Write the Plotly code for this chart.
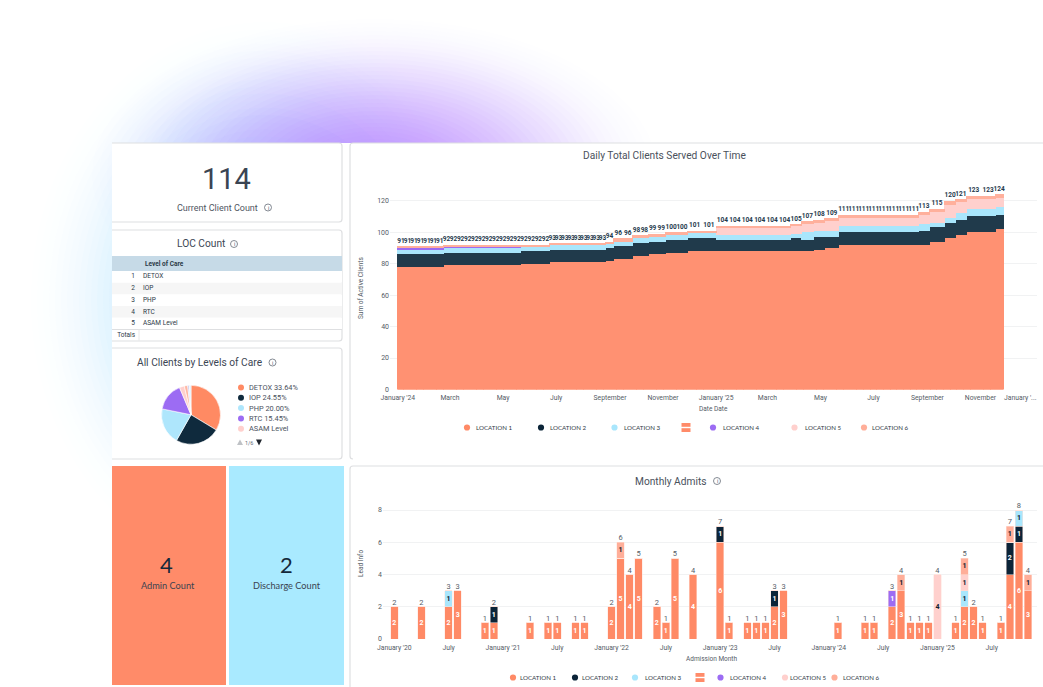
import pandas as pd
import plotly.graph_objects as go

W, H = 1043, 687

# ---------- Daily Total Clients Served (runs of equal daily values) ----------
run_start = ["2024-01-01", "2024-02-22", "2024-05-21", "2024-06-23", "2024-08-27", "2024-09-05",
             "2024-09-27", "2024-10-15", "2024-11-04", "2024-11-29", "2025-01-01", "2025-03-28",
             "2025-04-09", "2025-04-23", "2025-05-06", "2025-05-22", "2025-08-22", "2025-09-03",
             "2025-09-21", "2025-10-03", "2025-10-16", "2025-11-18"]
run_end = "2025-11-27"
daily_loc1 = [78, 79, 80, 81, 82, 83, 85, 86, 87, 88, 88, 88, 88, 89, 90, 92, 92, 94, 96, 98, 100, 102]
daily_loc2 = [8, 8, 8, 8, 8, 8, 8, 8, 8, 8, 7, 8, 7, 8, 7, 8, 9, 9, 10, 10, 10, 9]
daily_loc3 = [3, 3, 3, 3, 3, 3, 3, 3, 3, 4, 3, 3, 5, 4, 4, 4, 4, 3, 3, 4, 5, 5]
daily_loc4 = [1, 1, 0, 0, 0, 0, 0, 0, 0, 0, 0, 0, 0, 0, 0, 0, 0, 0, 0, 0, 0, 0]
daily_loc5 = [0, 0, 0, 0, 0, 0, 0, 0, 0, 0, 5, 5, 5, 5, 6, 5, 6, 7, 8, 7, 6, 6]
daily_loc6 = [1, 1, 1, 1, 1, 2, 2, 2, 2, 1, 1, 1, 2, 2, 2, 2, 2, 2, 3, 2, 2, 2]
daily_label_count = [7, 11, 4, 9, 1, 2, 2, 2, 2, 2, 6, 1, 1, 1, 1, 8, 1, 1, 1, 1, 2, 1]
daily_xticks = ["2024-01-01", "2024-03-01", "2024-05-01", "2024-07-01", "2024-09-01", "2024-11-01",
                "2025-01-01", "2025-03-01", "2025-05-01", "2025-07-01", "2025-09-01", "2025-11-01"]
daily_xlabels = ["January '24", "March", "May", "July", "September", "November",
                 "January '25", "March", "May", "July", "September", "November"]

# ---------- Monthly Admits ----------
adm_months = ["2020-01", "2020-04", "2020-07", "2020-08", "2020-11", "2020-12", "2021-04", "2021-06", "2021-07",
              "2021-09", "2021-10", "2022-01", "2022-02", "2022-03", "2022-04", "2022-06", "2022-07", "2022-08",
              "2022-10", "2023-01", "2023-02", "2023-04", "2023-05", "2023-06", "2023-07", "2023-08", "2024-02",
              "2024-05", "2024-06", "2024-08", "2024-09", "2024-10", "2024-11", "2024-12", "2025-01", "2025-03",
              "2025-04", "2025-05", "2025-06", "2025-08", "2025-09", "2025-10", "2025-11"]
adm_loc1 = [2, 2, 2, 3, 1, 1, 1, 1, 1, 1, 1, 2, 5, 4, 5, 2, 1, 5, 4, 6, 1, 1, 1, 1, 2, 3, 1, 1, 1, 2, 3, 1, 1, 1, 0, 1, 2, 2, 1, 1, 4, 6, 3]
adm_loc2 = [0, 0, 0, 0, 0, 1, 0, 0, 0, 0, 0, 0, 0, 0, 0, 0, 0, 0, 0, 1, 0, 0, 0, 0, 1, 0, 0, 0, 0, 0, 0, 0, 0, 0, 0, 0, 0, 0, 0, 0, 2, 1, 0]
adm_loc3 = [0, 0, 1, 0, 0, 0, 0, 0, 0, 0, 0, 0, 0, 0, 0, 0, 0, 0, 0, 0, 0, 0, 0, 0, 0, 0, 0, 0, 0, 0, 0, 0, 0, 0, 0, 0, 1, 0, 0, 0, 0, 1, 0]
adm_loc4 = [0, 0, 0, 0, 0, 0, 0, 0, 0, 0, 0, 0, 0, 0, 0, 0, 0, 0, 0, 0, 0, 0, 0, 0, 0, 0, 0, 0, 0, 1, 0, 0, 0, 0, 0, 0, 0, 0, 0, 0, 0, 0, 0]
adm_loc5 = [0, 0, 0, 0, 0, 0, 0, 0, 0, 0, 0, 0, 0, 0, 0, 0, 0, 0, 0, 0, 0, 0, 0, 0, 0, 0, 0, 0, 0, 0, 0, 0, 0, 0, 4, 0, 1, 0, 0, 0, 0, 0, 0]
adm_loc6 = [0, 0, 0, 0, 0, 0, 0, 0, 0, 0, 0, 0, 1, 0, 0, 0, 0, 0, 0, 0, 0, 0, 0, 0, 0, 0, 0, 0, 0, 0, 1, 0, 0, 0, 0, 0, 1, 0, 0, 0, 1, 0, 1]
adm_xtick_months = ["2020-01", "2020-07", "2021-01", "2021-07", "2022-01", "2022-07", "2023-01", "2023-07",
                    "2024-01", "2024-07", "2025-01", "2025-07"]
adm_xlabels = ["January '20", "July", "January '21", "July", "January '22", "July", "January '23", "July",
               "January '24", "July", "January '25", "July"]

# ---------- Levels of care ----------
care_labels = ["DETOX", "IOP", "PHP", "RTC", "ASAM Level", "Other A", "Other B", "Other C"]
care_shares = [33.64, 24.55, 20.00, 15.45, 2.73, 1.82, 0.91, 0.90]
care_legend = ["DETOX 33.64%", "IOP 24.55%", "PHP 20.00%", "RTC 15.45%", "ASAM Level"]
table_rows = ["1", "2", "3", "4", "5", "Totals"]
table_care = ["DETOX", "IOP", "PHP", "RTC", "ASAM Level", ""]

location_names = ["LOCATION 1", "LOCATION 2", "LOCATION 3", "LOCATION 4", "LOCATION 5", "LOCATION 6"]
colors = ["#FF9172", "#203A4B", "#A9E6FC", "#9C6CF3", "#FFD0CD", "#FFB09C"]
legend_dots = ["#FF8A66", "#0B2438", "#A9E6FC", "#9C6CF3", "#FFD0CD", "#FFAE99"]
care_colors = ["#FF8A63", "#0F2A3D", "#AEE6FC", "#9C6CF3", "#FFD0CD", "#FFB7A3", "#C9C9EE", "#DCEEFB"]

INK = "#3C4654"
TICK = "#555C66"
FONT = "Roboto"


def fx(x):
    return x / W


def fy(y):
    return 1 - y / H


def label(x, y, text, size, color=INK, anchor="center", angle=0, family=FONT):
    return dict(xref="paper", yref="paper", x=fx(x), y=fy(y), text=text, showarrow=False, xanchor=anchor,
                yanchor="middle", textangle=angle, align="center",
                font=dict(size=size, color=color, family=family), borderpad=0, borderwidth=0)


def card_path(x0, y0, x1, y1, r=3, open_left=False, open_right=False):
    a, b, c, d = fx(x0), fy(y0), fx(x1), fy(y1)
    rx, ry = r / W, r / H
    if open_right:
        return f"M {a+rx} {d} Q {a} {d} {a} {d+ry} L {a} {b-ry} Q {a} {b} {a+rx} {b} L {c} {b}"
    if open_left:
        return f"M {a} {b} L {c-rx} {b} Q {c} {b} {c} {b-ry} L {c} {d+ry} Q {c} {d} {c-rx} {d} L {a} {d}"
    return f"M {a} {b} L {c} {b} L {c} {d} L {a} {d} Z"


shapes = []


def glow(cx, cy, rx, ry, rgb, steps, peak, base):
    for k in range(steps):
        f = 1 - k / steps
        alpha = round(peak * (1 - f) + base, 4)
        shapes.append(dict(type="circle", xref="paper", yref="paper", x0=fx(cx - rx * f), x1=fx(cx + rx * f),
                           y0=fy(cy + ry * f), y1=fy(cy - ry * f), line_width=0, layer="below",
                           fillcolor=f"rgba({rgb[0]},{rgb[1]},{rgb[2]},{alpha})"))


def rect(x0, y0, x1, y1, fill, line=None):
    shapes.append(dict(type="rect", xref="paper", yref="paper", x0=fx(x0), x1=fx(x1), y0=fy(y1), y1=fy(y0),
                       fillcolor=fill, line=dict(width=1 if line else 0, color=line or fill), layer="below"))


def dot(x, y, r, fill, line=None, width=0):
    shapes.append(dict(type="circle", xref="paper", yref="paper", x0=fx(x - r), x1=fx(x + r), y0=fy(y + r),
                       y1=fy(y - r), fillcolor=fill, line=dict(width=width, color=line or fill), layer="above"))


def poly(points, fill):
    path = "M " + " L ".join(f"{fx(a)} {fy(b)}" for a, b in points) + " Z"
    shapes.append(dict(type="path", xref="paper", yref="paper", path=path, fillcolor=fill, line_width=0, layer="above"))


annotations = []


def info(x, y, r=3.5):
    dot(x, y, r, "rgba(255,255,255,0)", "#666D78", 0.8)
    annotations.append(label(x, y, "i", 5.5, "#555C66"))


glow(265, 300, 240, 285, (165, 222, 255), 40, 0.12, 0.004)
glow(375, 175, 290, 160, (190, 135, 250), 40, 0.085, 0.005)
rect(112, 143, W + 2, H + 2, "#FFFFFF")
rect(112, 466, 226, 685, "#FF8B69")
rect(229, 466, 344, 685, "#A9EAFF")

for x0, y0, x1, y1, side in [(112, 143, 342, 222, "l"), (112, 230, 342, 341, "l"), (112, 348, 342, 459, "l"),
                             (350, 143, W + 2, 459, "r"), (350, 466, W + 2, H + 3, "r")]:
    shapes.append(dict(type="path", xref="paper", yref="paper", layer="below",
                       path=card_path(x0, y0, x1, y1, open_left=side == "l", open_right=side == "r"),
                       line=dict(color="#DEDFE1", width=1.2)))

# table header and row bands
rect(112, 256, 342, 271, "#C6DAE7")
for r_i, r_fill in enumerate(["#FFFFFF", "#F6F6F6", "#FFFFFF", "#F6F6F6", "#FFFFFF"]):
    rect(112, 271 + r_i * 11.7, 342, 271 + (r_i + 1) * 11.7, r_fill)
shapes.append(dict(type="line", xref="paper", yref="paper", x0=fx(112), x1=fx(342), y0=fy(329.5), y1=fy(329.5),
                   line=dict(color="#DEDFE1", width=1), layer="below"))
shapes.append(dict(type="line", xref="paper", yref="paper", x0=fx(139), x1=fx(139), y0=fy(341), y1=fy(329.5),
                   line=dict(color="#E8E9EA", width=1), layer="below"))

# ---------- text blocks ----------
annotations += [
    label(226, 179, "114", 29, "#3A4452"),
    label(217, 207.5, "Current Client Count", 9, "#50565F"),
    label(200.5, 244, "LOC Count", 10.2, "#3C4654"),
    label(200, 362, "All Clients by Levels of Care", 10.2, "#3C4654"),
    label(664, 156, "Daily Total Clients Served Over Time", 10.2, "#4A515C"),
    label(671, 481, "Monthly Admits", 10.2, "#4A515C"),
    label(166, 564, "4", 22, "#15283A", family="Lato"),
    label(168, 585, "Admin Count", 9.2, "#3B4350", family="Lato"),
    label(286, 564, "2", 22, "#15283A", family="Lato"),
    label(286.5, 585, "Discharge Count", 9.2, "#3B4350", family="Lato"),
    label(361, 288, "Sum of Active Clients", 6.5, TICK, angle=-90),
    label(713, 408.5, "Date Date", 6.5, TICK),
    label(361, 564, "Lead Info", 6.5, TICK, angle=-90),
    label(711, 658.5, "Admission Month", 6.5, TICK),
    label(1020, 398, "January '...", 6.8, TICK),
    label(145, 263.5, "<b>Level of Care</b>", 6.5, "#2C3A48", anchor="left"),
]
info(268, 207.5)
info(234, 244)
info(272.5, 362.5)
info(717, 481)

# ---------- custom legends ----------
top_dots = [467, 541, 614.5, 713, 794.5, 864]
top_text = [476, 550, 624, 723, 805, 872]
bot_dots = [513, 575, 635, 720.5, 785, 834.5]
bot_text = [520, 582, 645, 730, 790, 843]
for dots, texts, yy in [(top_dots, top_text, 427.5), (bot_dots, bot_text, 677.5)]:
    for i in range(6):
        dot(dots[i], yy, 3.1, legend_dots[i])
        annotations.append(label(texts[i], yy, location_names[i], 6.2, "#2F3945", anchor="left", family="Lato"))
for xc, yc in [(686, 427.5), (700, 677.5)]:
    for off in (-2.6, 2.6):
        rect(xc - 4.5, yc + off - 1.9, xc + 4.5, yc + off + 1.9, "#FF8B69")
        shapes[-1]["layer"] = "above"

for i, t in enumerate(care_legend):
    yy = 387.5 + i * 10.3
    dot(241, yy, 3, care_colors[i])
    annotations.append(label(248.5, yy, t, 7.4, "#4A515C", anchor="left"))
poly([(237, 445), (243, 445), (240, 439.5)], "#BFC2C6")
annotations.append(label(248.5, 442.5, "1/6", 5.5, "#666D78"))
poly([(256, 439.5), (262, 439.5), (259, 445.5)], "#20262E")

# ---------- figure ----------
fig = go.Figure()

starts = pd.to_datetime(run_start)
ends = pd.to_datetime(run_start[1:] + [run_end])
run_days = [(e - s).days for s, e in zip(starts, ends)]
day_axis = pd.date_range(run_start[0], run_end, inclusive="left")
daily_series = [daily_loc1, daily_loc2, daily_loc3, daily_loc4, daily_loc5, daily_loc6]
one_day = 86400000
for name, values, color in zip(location_names, daily_series, colors):
    per_day = [v for v, n in zip(values, run_days) for _ in range(n)]
    fig.add_trace(go.Bar(x=day_axis, y=per_day, width=0.97 * one_day, offset=0, name=name,
                         marker=dict(color=color, line_width=0), showlegend=False, xaxis="x", yaxis="y"))
daily_total = [sum(v) for v in zip(*daily_series)]
lab_x, lab_y, lab_t = [], [], []
for s, d, n, t in zip(starts, run_days, daily_label_count, daily_total):
    for i in range(n):
        lab_x.append(s + pd.Timedelta(days=d * (i + 0.5) / n))
        lab_y.append(t + 1.2)
        lab_t.append(str(t))
fig.add_trace(go.Scatter(x=lab_x, y=lab_y, text=lab_t, mode="text", textposition="top center",
                         textfont=dict(size=6.5, color="#1E394C", family="Roboto", weight=700), showlegend=False,
                         cliponaxis=False, xaxis="x", yaxis="y"))

base_month = pd.Period("2020-01", "M")
idx = [(pd.Period(m, "M") - base_month).n for m in adm_months]
adm_ticks = [(pd.Period(m, "M") - base_month).n for m in adm_xtick_months]
text_colors = ["#FFFFFF", "#FFFFFF", "#10202E", "#FFFFFF", "#10202E", "#10202E"]
adm_series = [adm_loc1, adm_loc2, adm_loc3, adm_loc4, adm_loc5, adm_loc6]
for name, values, color, tc in zip(location_names, adm_series, legend_dots, text_colors):
    fig.add_trace(go.Bar(x=idx, y=values, name=name, marker=dict(color=color, line=dict(width=0.5, color="#FFE3DB")),
                         text=[str(v) if v else "" for v in values], textposition="inside", textangle=0,
                         insidetextanchor="middle", constraintext="none",
                         textfont=dict(size=7, color=tc, family="Roboto", weight=700),
                         showlegend=False, xaxis="x2", yaxis="y2"))
adm_total = [sum(v) for v in zip(*adm_series)]
fig.add_trace(go.Scatter(x=idx, y=adm_total, text=[str(v) for v in adm_total], mode="text", textposition="top center",
                         textfont=dict(size=7.5, color="#555C66", family="Roboto"), showlegend=False,
                         cliponaxis=False, xaxis="x2", yaxis="y2"))

fig.add_trace(go.Pie(labels=care_labels, values=care_shares, sort=False, direction="clockwise", rotation=0,
                     marker=dict(colors=care_colors, line=dict(color="#FFFFFF", width=0.6)), textinfo="none",
                     showlegend=False, domain=dict(x=[fx(161.5), fx(220.5)], y=[fy(444.5), fy(385)])))

# table body: row numbers and level-of-care names placed on their own small axes
row_pos = list(range(len(table_rows)))
fig.add_trace(go.Scatter(x=[23] * len(table_rows), y=row_pos, text=table_rows, mode="text", textposition="middle left",
                         textfont=dict(size=6.5, color="#2C3A48", family=FONT), showlegend=False, cliponaxis=False,
                         xaxis="x3", yaxis="y3"))
fig.add_trace(go.Scatter(x=[31] * len(table_care), y=row_pos, text=table_care, mode="text", textposition="middle right",
                         textfont=dict(size=6.5, color="#2C3A48", family=FONT), showlegend=False, cliponaxis=False,
                         xaxis="x3", yaxis="y3"))

grid = "#F1F2F3"
fig.update_layout(
    width=W, height=H, margin=dict(l=0, r=0, t=0, b=0, pad=0, autoexpand=False), autosize=False,
    paper_bgcolor="#FFFFFF", plot_bgcolor="rgba(0,0,0,0)", barmode="stack", bargap=0.17,
    font=dict(family=FONT, size=8, color=TICK), showlegend=False,
    shapes=shapes, annotations=annotations,
    xaxis=dict(domain=[fx(390), fx(1037)], type="date", range=["2023-12-23", "2026-01-05"], tickmode="array",
               tickvals=daily_xticks, ticktext=daily_xlabels, showgrid=False, zeroline=False, ticks="",
               tickfont=dict(size=6.8, color=TICK), ticklabelstandoff=3, tickangle=0, anchor="y"),
    yaxis=dict(domain=[fy(389.5), fy(185)], range=[0, 130], tickvals=[0, 20, 40, 60, 80, 100, 120], gridcolor=grid,
               gridwidth=1, zeroline=False, ticks="", tickfont=dict(size=7, color=TICK), anchor="x"),
    xaxis2=dict(domain=[fx(383), fx(1037)], range=[-1.25, 71], tickmode="array", tickvals=adm_ticks,
                ticktext=adm_xlabels, showgrid=False, zeroline=False, ticks="", tickfont=dict(size=6.8, color=TICK),
                ticklabelstandoff=3, tickangle=0, anchor="y2"),
    yaxis2=dict(domain=[fy(639), fy(495)], range=[0, 8.93], tickvals=[0, 2, 4, 6, 8], gridcolor=grid, gridwidth=1,
                zeroline=False, ticks="", tickfont=dict(size=7, color=TICK), anchor="x2"),
    xaxis3=dict(domain=[fx(112), fx(342)], range=[0, 230], visible=False, anchor="y3"),
    yaxis3=dict(domain=[fy(341.2), fy(271)], range=[5.5, -0.5], visible=False, anchor="x3"),
)

fig.write_html(
    "out.html",
    config={"displayModeBar": False},
    post_script="document.documentElement.style.margin='0';document.body.style.margin='0';"
                "document.body.style.padding='0';document.body.style.overflow='hidden';"
                "var g=document.getElementsByClassName('plotly-graph-div')[0];"
                "g.style.position='fixed';g.style.left='0';g.style.top='0';g.style.margin='0';",
)
